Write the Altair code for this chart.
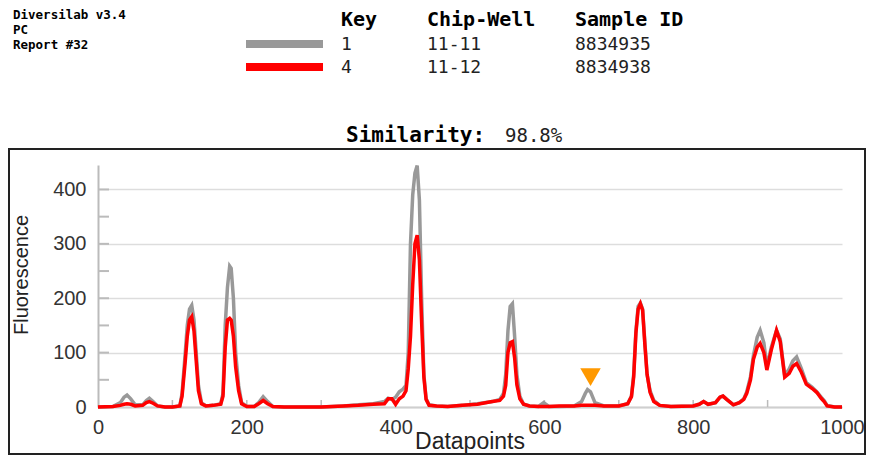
import altair as alt
import pandas as pd

# ---------------- data ----------------
datapoints = [0, 20, 30, 35, 39, 44, 50, 60, 65, 69, 74, 80, 90, 100, 110,
              113, 117, 120, 123, 126, 129, 132, 135, 139, 145,
              155, 165, 168, 171, 174, 177, 179, 182, 185, 189, 193, 200,
              210, 216, 222, 228, 235, 250, 300, 330, 350, 370, 385, 390, 395, 400, 405,
              410, 414, 417, 420, 423, 426, 429, 432, 435, 438, 441, 445,
              455, 470, 490, 510, 530, 540, 545, 548, 551, 554, 557, 560, 563, 567, 572, 580,
              592, 599, 606, 620, 640, 650, 655, 658, 662, 668, 680, 700,
              712, 717, 720, 723, 726, 729, 732, 735, 738, 742, 747, 755, 770,
              800, 808, 814, 820, 830, 836, 840, 845, 854,
              862, 868, 872, 877, 881, 886, 890, 895, 899, 905, 912, 917, 923, 929, 934, 939,
              945, 952, 960, 966, 972, 976, 980, 990, 1000]

key1_gray = [0, 1, 8, 18, 22, 15, 4, 4, 12, 16, 10, 2, 0, 0, 2,
             25, 95, 150, 180, 187, 160, 100, 40, 8, 2,
             3, 6, 25, 150, 220, 259, 255, 200, 100, 40, 8, 1,
             1, 8, 19, 10, 1, 0, 0, 2, 4, 6, 10, 16, 14, 18, 28,
             33, 40, 100, 300, 390, 430, 444, 380, 200, 60, 15, 4,
             2, 1, 3, 6, 10, 14, 25, 60, 140, 185, 190, 130, 60, 20, 5, 2,
             1, 8, 1, 1, 2, 10, 25, 32, 28, 8, 2, 2,
             6, 20, 60, 140, 185, 191, 180, 120, 60, 30, 12, 3, 1,
             2, 5, 10, 5, 8, 18, 20, 14, 4,
             8, 15, 28, 56, 95, 128, 141, 118, 74, 110, 141, 125, 58, 70, 85, 92,
             72, 45, 36, 28, 18, 12, 3, 0, 0]

key4_red = [0, 1, 3, 5, 6, 5, 2, 3, 8, 10, 7, 2, 0, 0, 2,
            20, 80, 130, 160, 166, 140, 85, 30, 6, 2,
            3, 5, 20, 110, 160, 163, 160, 130, 74, 30, 6, 1,
            1, 6, 12, 6, 1, 0, 0, 2, 3, 5, 6, 15, 15, 5, 15,
            20, 30, 70, 130, 225, 300, 316, 270, 155, 55, 14, 3,
            2, 1, 3, 5, 10, 12, 20, 40, 100, 118, 120, 90, 41, 15, 5, 2,
            1, 1, 1, 2, 2, 3, 3, 3, 3, 3, 2, 2,
            6, 19, 55, 136, 180, 190, 178, 115, 60, 27, 10, 3, 1,
            2, 5, 10, 5, 8, 18, 20, 14, 4,
            8, 14, 25, 50, 88, 110, 117, 100, 68, 105, 141, 120, 55, 62, 75, 80,
            65, 42, 34, 27, 16, 10, 2, 0, 0]

x_tick_values = [0, 100, 200, 300, 400, 500, 600, 700, 800, 900, 1000]
x_inner_ticks = [100, 200, 300, 400, 500, 600, 700, 800, 900]
y_label_values = [0, 100, 200, 300, 400]
y_inner_ticks = [50, 100, 150, 200, 250, 300, 350, 400]
marker_x = [662]
marker_y = [55]

# ---------------- layout ----------------
W, H = 744, 242
OX, OY = 98, 165  # page position of plot origin


def px(v):
    return v - OX


def py(v):
    return v - OY


AXIS_FONT = "Liberation Sans"
MONO = "DejaVu Sans Mono"

xs = alt.Scale(domain=[0, 1000], nice=False, zero=False)
ys = alt.Scale(domain=[0, 445], nice=False)

x_axis = alt.Axis(
    values=x_tick_values, format="d",
    labelExpr="datum.value % 200 === 0 ? datum.label : ''",
    title=None, grid=False, ticks=False,
    domainColor="#cfcfcf", domainWidth=2,
    labelFont=AXIS_FONT, labelFontSize=20, labelColor="#333333",
    labelPadding=10, labelFlush=False,
)
y_axis = alt.Axis(
    values=y_label_values,
    title=None, grid=True, gridColor="#dddddd", gridWidth=1.5,
    ticks=False, domainColor="#bbbbbb", domainWidth=2,
    labelFont=AXIS_FONT, labelFontSize=20, labelColor="#333333",
    labelPadding=12,
)

one = pd.DataFrame({"a": [0]})

gray_df = pd.DataFrame({"x": datapoints, "y": key1_gray})
red_df = pd.DataFrame({"x": datapoints, "y": key4_red})

gray_line = alt.Chart(gray_df).mark_line(color="#999999", strokeWidth=3.5).encode(
    x=alt.X("x:Q", scale=xs, axis=x_axis),
    y=alt.Y("y:Q", scale=ys, axis=y_axis),
)
red_line = alt.Chart(red_df).mark_line(color="#ff0000", strokeWidth=3.5).encode(
    x=alt.X("x:Q", scale=xs, axis=x_axis),
    y=alt.Y("y:Q", scale=ys, axis=y_axis),
)

xt = alt.Chart(pd.DataFrame({"x": x_inner_ticks})).mark_rule(color="#bbbbbb", strokeWidth=1.5).encode(
    x=alt.X("x:Q", scale=xs, axis=x_axis),
    y=alt.value(H - 7), y2=alt.value(H),
)
yt = alt.Chart(pd.DataFrame({"y": y_inner_ticks})).mark_rule(color="#bbbbbb", strokeWidth=2).encode(
    y=alt.Y("y:Q", scale=ys, axis=y_axis),
    x=alt.value(0), x2=alt.value(11),
)

marker = alt.Chart(pd.DataFrame({"x": marker_x, "y": marker_y})).mark_point(
    shape="triangle-down", filled=True, color="#ff9900", opacity=1, size=420
).encode(
    x=alt.X("x:Q", scale=xs, axis=x_axis),
    y=alt.Y("y:Q", scale=ys, axis=y_axis),
)

frame = alt.Chart(one).mark_rect(fillOpacity=0, stroke="#222222", strokeWidth=2).encode(
    x=alt.value(px(9)), x2=alt.value(px(865)),
    y=alt.value(py(149)), y2=alt.value(py(454)),
)


def swatch(color, y0, y1):
    return alt.Chart(one).mark_rect(color=color).encode(
        x=alt.value(px(246)), x2=alt.value(px(323)),
        y=alt.value(py(y0)), y2=alt.value(py(y1)),
    )


def txt(s, x, y, size, weight="normal", font=MONO, align="left", angle=0, color="#000000"):
    return alt.Chart(one).mark_text(
        text=s, align=align, baseline="middle", font=font, fontSize=size,
        fontWeight=weight, angle=angle, color=color,
    ).encode(x=alt.value(px(x)), y=alt.value(py(y)))


texts = [
    txt("Diversilab v3.4", 13, 15, 12.5, "bold"),
    txt("PC", 13, 30, 12.5, "bold"),
    txt("Report #32", 13, 45, 12.5, "bold"),
    txt("Key", 341, 20, 20, "bold"),
    txt("Chip-Well", 427, 20, 20, "bold"),
    txt("Sample ID", 575, 20, 20, "bold"),
    txt("1", 341, 45, 18, color="#222222"),
    txt("11-11", 427, 45, 18, color="#222222"),
    txt("8834935", 575, 45, 18, color="#222222"),
    txt("4", 341, 68, 18, color="#222222"),
    txt("11-12", 427, 68, 18, color="#222222"),
    txt("8834938", 575, 68, 18, color="#222222"),
    txt("Similarity:", 346, 136, 21, "bold"),
    txt("98.8%", 505, 136, 19, color="#222222"),
    txt("Fluorescence", 22, 275, 20, font=AXIS_FONT, align="center", angle=270, color="#222222"),
    txt("Datapoints", 470, 442, 23, font=AXIS_FONT, align="center", color="#222222"),
]

chart = alt.layer(
    frame, xt, yt, gray_line, red_line, marker,
    swatch("#999999", 40, 48), swatch("#ff0000", 63, 71),
    *texts,
).properties(
    width=W, height=H,
    autosize=alt.AutoSizeParams(type="none"),
    padding={"left": 90, "top": 157, "right": 24, "bottom": 48},
    background="white",
).configure_view(stroke=None)

chart.save("out.html", embed_options={"renderer": "svg", "actions": False})
